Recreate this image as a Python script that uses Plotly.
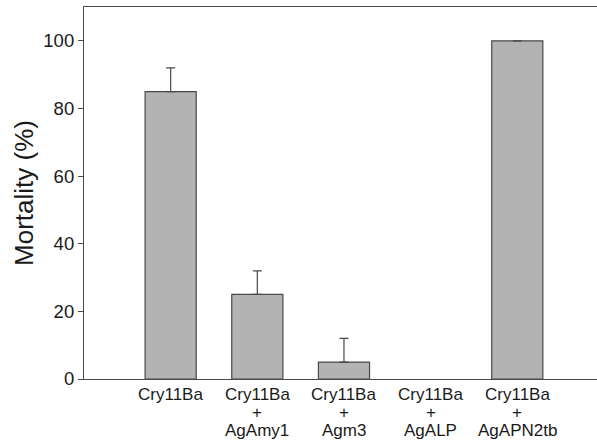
import plotly.graph_objects as go

categories = ["Cry11Ba", "Cry11Ba<br>+<br>AgAmy1", "Cry11Ba<br>+<br>Agm3",
              "Cry11Ba<br>+<br>AgALP", "Cry11Ba<br>+<br>AgAPN2tb"]
mortality = [85, 25, 5, 0, 100]
error_up = [7, 7, 7, None, 0]
y_ticks = [0, 20, 40, 60, 80, 100]

x_idx = list(range(len(categories)))

fig = go.Figure()
fig.add_trace(go.Bar(
    x=x_idx, y=mortality, width=0.59,
    marker=dict(color="#b3b3b3",
                opacity=[1 if v > 0 else 0 for v in mortality],
                line=dict(color="#4a4a4a",
                          width=[1.2 if v > 0 else 0 for v in mortality])),
))

# error bars only where a value exists
ex = [i for i, e in zip(x_idx, error_up) if e is not None]
ey = [mortality[i] for i in ex]
ee = [error_up[i] for i in ex]
fig.add_trace(go.Scatter(
    x=ex, y=ey, mode="markers", marker=dict(size=0.1, opacity=0),
    error_y=dict(type="data", array=ee, arrayminus=[0] * len(ee),
                 symmetric=False, color="#4a4a4a", thickness=1.2, width=4.5),
    hoverinfo="skip",
))

# multi-line category labels with tight line spacing
line_step = 18
for i, cat in enumerate(categories):
    for j, part in enumerate(cat.split("<br>")):
        fig.add_annotation(
            x=i, y=0, xref="x", yref="paper", text=part, showarrow=False,
            xanchor="center", yanchor="top", yshift=-5 - j * line_step,
            font=dict(size=17), borderpad=0,
        )

fig.update_layout(
    width=597, height=444,
    margin=dict(l=84, r=0, t=7, b=65),
    paper_bgcolor="white", plot_bgcolor="white",
    font=dict(family="Liberation Sans, Arial, sans-serif", color="#1a1a1a"),
    showlegend=False,
)
fig.update_xaxes(
    range=[-1, 4.92], tickvals=x_idx, showticklabels=False,
    showline=True, linecolor="#4a4a4a", linewidth=1.2, mirror=True,
    ticks="", showgrid=False, zeroline=False,
)
fig.update_yaxes(
    range=[0, 110], tickvals=y_ticks,
    showline=True, linecolor="#4a4a4a", linewidth=1.2,
    ticks="outside", ticklen=5, tickcolor="#4a4a4a", tickwidth=1.2,
    showgrid=False, zeroline=False,
    tickfont=dict(size=18.5),
    title=dict(text="Mortality (%)", font=dict(size=26), standoff=2),
)

fig.write_html("out.html", config={"displayModeBar": False},
               post_script="document.body.style.margin='0';")
